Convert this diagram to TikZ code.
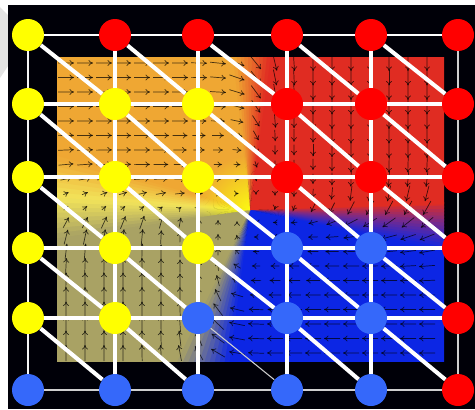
\documentclass[tikz,border=0pt]{standalone}
\usetikzlibrary{arrows.meta,backgrounds,fadings}

\definecolor{fred}{HTML}{E02C22}
\definecolor{fpurple}{HTML}{7A2A8A}
\definecolor{fblue}{HTML}{0C26E4}
\definecolor{folive}{HTML}{A9A264}
\definecolor{fyellow}{HTML}{F2E45A}
\definecolor{forange}{HTML}{EFA733}
\definecolor{nyellow}{HTML}{FFFF00}
\definecolor{nred}{HTML}{FF0000}
\definecolor{nblue}{HTML}{3568FA}
\definecolor{rim}{HTML}{CFCFCF}

\tikzfading[name=glow,inner color=transparent!0,outer color=transparent!100]

% smooth quarter turn across a domain wall
\pgfmathdeclarefunction{turn}{1}{\pgfmathparse{1/(1+exp(-max(-9,min(9,#1/5))))}}

\tikzset{
  site/.style={circle,inner sep=0pt,minimum size=0.64cm},
  bond/.style={white,line width=2.3pt},
  topbond/.style={white,line width=1.7pt},
  rimbond/.style={rim,line width=1.1pt},
  weakbond/.style={rim,line width=0.6pt},
  vec/.style={black,opacity=0.7,line width=0.4pt,-{To[length=2.6pt,width=3.4pt]}},
}

\begin{document}
\begin{tikzpicture}[x=0.02cm,y=-0.02cm]
  \useasboundingbox (0,0) rectangle (475,409);
  % lattice sites, coloured by phase
  \def\colx{{28,115,198,287,371,458}}
  \def\rowy{{35,104,177,248,318,390}}
  \foreach \cols [count=\r from 0] in {{nyellow,nred,nred,nred,nred,nred},
      {nyellow,nyellow,nyellow,nred,nred,nred},{nyellow,nyellow,nyellow,nred,nred,nred},
      {nyellow,nyellow,nyellow,nblue,nblue,nred},{nyellow,nyellow,nblue,nblue,nblue,nred},
      {nblue,nblue,nblue,nblue,nblue,nred}} {
    \foreach \col [count=\c from 0] in \cols {
      \pgfmathsetmacro\x{\colx[\c]}
      \pgfmathsetmacro\y{\rowy[\r]}
      \node[site,fill=\col] (n-\r-\c) at (\x,\y) {};
    }
  }
  \begin{pgfonlayer}{background}
    \fill[gray!22] (0,7) -- (8,15) -- (8,66) -- (0,78) -- cycle;
    \fill[black!97!blue] (8,5) rectangle (475,409);
    \coordinate (core) at (250,210);
    % phase field: conic colour wheel round the core
    \begin{scope}
      \clip (57,57) rectangle (444,361);
      \foreach \a/\b/\n/\ca/\cb in {-2/4/6/fred/fpurple,4/12/8/fpurple/fblue,12/98/1/fblue/fblue,
          98/116/10/fblue/folive,116/172/1/folive/folive,172/184/8/folive/fyellow,
          184/196/8/fyellow/forange,196/264/1/forange/forange,264/278/10/forange/fred,
          278/358/1/fred/fred} {
        \foreach \k in {1,...,\n} {
          \pgfmathsetmacro\angA{\a+(\k-1)*(\b-\a)/\n-0.3}
          \pgfmathsetmacro\angB{\a+\k*(\b-\a)/\n+0.3}
          \pgfmathtruncatemacro\mix{100*(\k-0.5)/\n}
          \fill[\cb!\mix!\ca] (core) -- +(\angA:600) -- +(\angB:600) -- cycle;
        }
      }
      \begin{scope}
        \clip (core) -- +(172:90) -- +(220:130) -- +(266:90) -- cycle;
        \fill[nyellow!80!fyellow,path fading=glow] (core) circle (55);
      \end{scope}
      % spin arrows
      \foreach \i in {0,...,19} {
        \foreach \j in {0,...,20} {
          \pgfmathsetmacro\vx{66+19*\i}
          \pgfmathsetmacro\vy{63+14.5*\j}
          \pgfmathsetmacro\vang{atan2(\vy-210,\vx-250)}
          \pgfmathsetmacro\vang{\vang < -43.5 ? \vang+360 : \vang}
          \pgfmathsetmacro\vdir{90+90*(turn(\vang-3)+turn(\vang-106)+turn(\vang-180)+turn(\vang-271))}
          \pgfmathsetmacro\vlen{16*min(1,veclen(\vx-250,\vy-210)/110)*(1-0.7*exp(-min(9,((\vang-183)/7)^2)))}
          \pgfmathsetmacro\vback{\vdir+180}
          \pgfmathsetmacro\vhalf{\vlen/2}
          \ifdim\vlen pt>1.5pt
            \draw[vec] (\vx,\vy) ++(\vback:\vhalf) -- ++(\vdir:\vlen);
          \fi
        }
      }
    \end{scope}
    % bonds
    \foreach \c [count=\cn from 1] in {0,...,4} {
      \draw[topbond] (n-0-\c) -- (n-0-\cn);
      \draw[rimbond] (n-5-\c) -- (n-5-\cn);
      \foreach \r in {1,...,4} \draw[bond] (n-\r-\c) -- (n-\r-\cn);
    }
    \foreach \r [count=\rn from 1] in {0,...,4} {
      \draw[rimbond,white!80!rim] (n-\r-0) -- (n-\rn-0);
      \draw[rimbond] (n-\r-5) -- (n-\rn-5);
      \foreach \c in {1,...,4} \draw[bond] (n-\r-\c) -- (n-\rn-\c);
    }
    \foreach \r [count=\rn from 1] in {0,...,4} {
      \foreach \c [count=\cn from 1] in {0,...,4} {
        \ifnum\r\c=42
          \draw[weakbond] (n-\r-\c) -- (n-\rn-\cn);
        \else
          \draw[bond] (n-\r-\c) -- (n-\rn-\cn);
        \fi
      }
    }
  \end{pgfonlayer}
\end{tikzpicture}
\end{document}
